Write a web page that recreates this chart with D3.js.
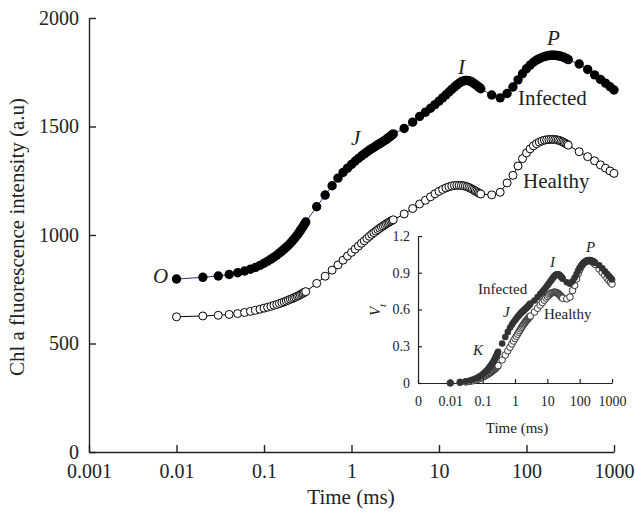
<!DOCTYPE html>
<html><head><meta charset="utf-8">
<script src="https://cdn.jsdelivr.net/npm/d3@7"></script>
<style>
html,body{margin:0;padding:0;background:#fff;}
svg{display:block;font-family:"Liberation Serif","Times New Roman",serif;}
</style></head>
<body>
<svg id="chart" width="635" height="516"></svg>
<script>
// Time points (ms)
const times = [0.01,0.02,0.03,0.04,0.05,0.06,0.07,0.08,0.09,0.10,0.11,0.12,0.13,0.14,0.15,0.16,0.17,0.18,0.19,0.20,0.21,0.22,0.23,0.24,0.25,0.26,0.27,0.28,0.29,0.30,
0.4,0.5,0.6,0.7,0.8,0.9,1.0,1.1,1.2,1.3,1.4,1.5,1.6,1.7,1.8,1.9,2.0,2.1,2.2,2.3,2.4,2.5,2.6,2.7,2.8,2.9,3.0,
4,5,6,7,8,9,10,11,12,13,14,15,16,17,18,19,20,21,22,23,24,25,26,27,28,29,30,
40,50,60,70,80,90,100,110,120,130,140,150,160,170,180,190,200,210,220,230,240,250,260,270,280,290,300,
400,500,600,700,800,900,1000];

const infected = [797,805,811,818,826,834,842,851,860,870,879,889,898,907,917,926,935,944,953,962,972,981,991,1000,1010,1020,1030,1040,1050,1060,
1130,1184,1227,1262,1288,1308,1325,1340,1353,1364,1374,1383,1391,1398,1404,1410,1416,1421,1426,1431,1436,1441,1446,1451,1456,1461,1466,
1491,1520,1546,1566,1584,1601,1617,1632,1646,1659,1671,1682,1692,1700,1706,1710,1712,1712,1711,1708,1704,1699,1694,1689,1684,1679,1674,
1645,1632,1652,1682,1715,1743,1766,1783,1796,1806,1813,1818,1822,1825,1827,1828,1828,1828,1827,1826,1825,1823,1821,1818,1815,1812,1808,
1788,1763,1738,1717,1700,1683,1668];

const healthy = [623,627,630,634,638,643,648,653,658,663,667,671,676,680,684,688,692,696,700,704,707,711,714,718,721,725,729,732,736,739,
777,810,838,862,884,903,920,935,949,962,973,984,994,1003,1011,1018,1025,1031,1037,1042,1047,1052,1056,1060,1064,1067,1070,
1097,1122,1143,1160,1176,1190,1201,1210,1217,1222,1226,1228,1229,1229,1228,1227,1225,1222,1219,1215,1211,1207,1203,1199,1195,1192,1189,
1185,1197,1240,1275,1318,1352,1378,1397,1411,1421,1428,1433,1437,1439,1440,1441,1441,1440,1439,1437,1435,1432,1429,1425,1422,1418,1414,
1384,1361,1342,1323,1308,1295,1284];

const xTicks = [0.001,0.01,0.1,1,10,100,1000];
const xTickLabels = ["0.001","0.01","0.1","1","10","100","1000"];
const yTicks = [0,500,1000,1500,2000];
const insetXTickLabels = ["0","0.01","0.1","1","10","100","1000"];
const insetYTicks = [0,0.3,0.6,0.9,1.2];
const insetYTickLabels = ["0","0.3","0.6","0.9","1.2"];

// Relative variable fluorescence Vt = (Ft - F0)/(Fm - F0), derived from the series above
function vt(series){
  const f0 = series[0], fm = d3.max(series);
  return series.map(v => (v - f0) / (fm - f0));
}
const infectedVt = vt(infected);
const healthyVt = vt(healthy);

const svg = d3.select("#chart");

// ---------- main chart ----------
const x = d3.scaleLog().domain([0.001,1000]).range([89,614]);
const y = d3.scaleLinear().domain([0,2000]).range([452,18]);

const xAxis = svg.append("g").attr("transform","translate(0,452)")
  .call(d3.axisBottom(x).tickValues(xTicks).tickFormat((d,i)=>xTickLabels[i])
    .tickSizeInner(-7).tickSizeOuter(0).tickPadding(12));
const yAxis = svg.append("g").attr("transform","translate(89,0)")
  .call(d3.axisLeft(y).tickValues(yTicks).tickFormat(d3.format("d"))
    .tickSizeInner(-7).tickSizeOuter(0).tickPadding(10));
[xAxis,yAxis].forEach(g=>{
  g.selectAll("path,line").attr("stroke","#222").attr("stroke-width",1.4);
  g.selectAll("text").attr("font-family","Liberation Serif").attr("font-size",20).attr("fill","#222");
});

svg.append("text").attr("x",351).attr("y",504).attr("text-anchor","middle")
  .attr("font-size",21).attr("fill","#222").text("Time (ms)");
svg.append("text").attr("transform","translate(24,237) rotate(-90)").attr("text-anchor","middle")
  .attr("font-size",21).attr("fill","#222").text("Chl a fluorescence intensity (a.u)");

const lineGen = (vals, xs, ys) => d3.line().x((d,i)=>xs(times[i])).y((d,i)=>ys(vals[i]))(vals);

svg.append("path").attr("d",lineGen(healthy,x,y)).attr("fill","none").attr("stroke","#000").attr("stroke-width",1);
svg.append("path").attr("d",lineGen(infected,x,y)).attr("fill","none").attr("stroke","#2e2e80").attr("stroke-width",1);

svg.append("g").selectAll("circle").data(healthy).join("circle")
  .attr("cx",(d,i)=>x(times[i])).attr("cy",d=>y(d)).attr("r",4)
  .attr("fill","#fff").attr("stroke","#000").attr("stroke-width",1);
svg.append("g").selectAll("circle").data(infected).join("circle")
  .attr("cx",(d,i)=>x(times[i])).attr("cy",d=>y(d)).attr("r",4.7)
  .attr("fill","#000");

const ann = svg.append("g").attr("fill","#222");
ann.append("text").attr("x",153).attr("y",283).attr("font-size",21).attr("font-style","italic").text("O");
ann.append("text").attr("x",351).attr("y",145).attr("font-size",21).attr("font-style","italic").text("J");
ann.append("text").attr("x",458).attr("y",74).attr("font-size",21).attr("font-style","italic").text("I");
ann.append("text").attr("x",547).attr("y",45).attr("font-size",21).attr("font-style","italic").text("P");
ann.append("text").attr("x",518).attr("y",105).attr("font-size",21).text("Infected");
ann.append("text").attr("x",523).attr("y",188).attr("font-size",21).text("Healthy");

// ---------- inset ----------
const ix = d3.scaleLog().domain([0.001,1000]).range([418,612]);
const iy = d3.scaleLinear().domain([0,1.2]).range([383,236]);

const ixAxis = svg.append("g").attr("transform","translate(0,383)")
  .call(d3.axisBottom(ix).tickValues(xTicks).tickFormat((d,i)=>insetXTickLabels[i])
    .tickSizeInner(-4).tickSizeOuter(0).tickPadding(13));
const iyAxis = svg.append("g").attr("transform","translate(418,0)")
  .call(d3.axisLeft(iy).tickValues(insetYTicks).tickFormat((d,i)=>insetYTickLabels[i])
    .tickSizeInner(-4).tickSizeOuter(0).tickPadding(8));
[ixAxis,iyAxis].forEach(g=>{
  g.selectAll("path,line").attr("stroke","#222").attr("stroke-width",1.2);
  g.selectAll("text").attr("font-family","Liberation Serif").attr("font-size",14).attr("fill","#222");
});
svg.append("text").attr("x",517).attr("y",433).attr("text-anchor","middle")
  .attr("font-size",15).attr("fill","#222").text("Time (ms)");
const vl = svg.append("text").attr("transform","translate(380,310) rotate(-90)").attr("text-anchor","middle")
  .attr("font-size",15).attr("fill","#222");
vl.append("tspan").attr("font-style","italic").text("V");
vl.append("tspan").attr("font-style","italic").attr("font-size",11).attr("baseline-shift","sub").text("t");

svg.append("g").selectAll("circle").data(healthyVt).join("circle")
  .attr("cx",(d,i)=>ix(times[i])).attr("cy",d=>iy(d)).attr("r",3.3)
  .attr("fill","#fff").attr("stroke","#333").attr("stroke-width",1);
svg.append("g").selectAll("circle").data(infectedVt).join("circle")
  .attr("cx",(d,i)=>ix(times[i])).attr("cy",d=>iy(d)).attr("r",3.3)
  .attr("fill","#333");

const iann = svg.append("g").attr("fill","#222").attr("font-size",15);
iann.append("text").attr("x",478).attr("y",294).text("Infected");
iann.append("text").attr("x",544).attr("y",319).text("Healthy");
iann.append("text").attr("x",503).attr("y",317).attr("font-style","italic").text("J");
iann.append("text").attr("x",473).attr("y",355).attr("font-style","italic").text("K");
iann.append("text").attr("x",550).attr("y",267).attr("font-style","italic").text("I");
iann.append("text").attr("x",586).attr("y",252).attr("font-style","italic").text("P");
</script>
</body></html>
